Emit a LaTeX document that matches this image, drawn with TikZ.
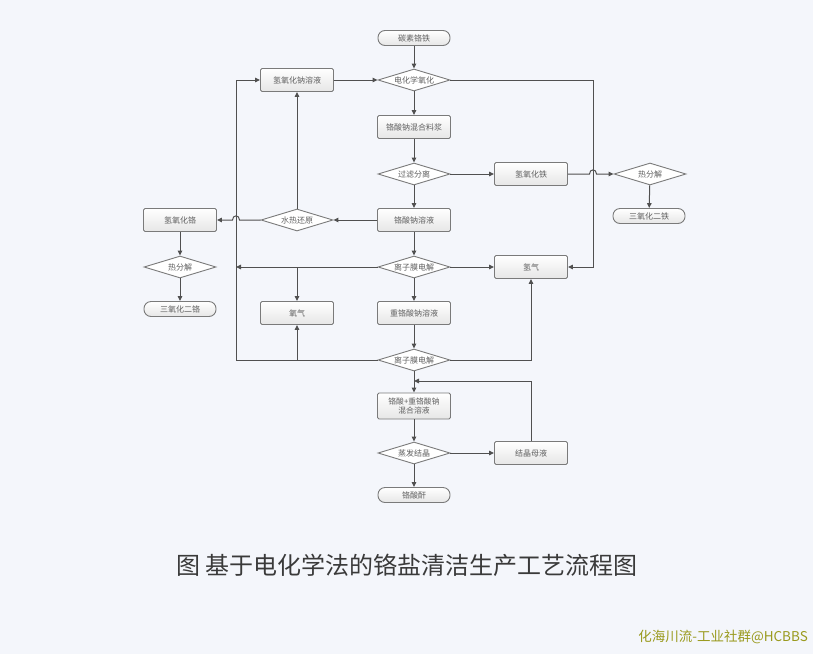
\documentclass[tikz,border=0pt]{standalone}
\usepackage{fontspec}
\newfontfamily\cjk{Noto Sans CJK SC}
\usetikzlibrary{shapes.geometric,arrows.meta}
\definecolor{bg}{HTML}{F4F6FB}
\definecolor{boxline}{HTML}{7A7A7A}
\definecolor{boxfill}{HTML}{E6E6E6}
\definecolor{txt}{HTML}{606060}
\definecolor{conn}{HTML}{505050}
\definecolor{cap}{HTML}{3A3A3A}
\definecolor{wm}{HTML}{9A9A1E}
\begin{document}
\begin{tikzpicture}[x=1pt,y=-1pt,
  lbl/.style={font=\cjk\fontsize{8}{9}\selectfont, text=txt},
  box/.style={lbl, rectangle, rounded corners=1.5pt, draw=boxline, line width=0.9pt,
    top color=white, bottom color=boxfill, minimum width=73pt, minimum height=23pt, inner sep=1pt},
  dia/.style={lbl, diamond, aspect=3, draw=boxline, line width=0.9pt, fill=white,
    minimum width=72pt, minimum height=22pt, inner sep=0pt},
  term/.style={lbl, rectangle, rounded corners=7pt, draw=boxline, line width=0.9pt,
    top color=white, bottom color=boxfill, minimum width=72pt, minimum height=15pt, inner sep=1pt},
  arr/.style={draw=conn, line width=1pt, -{Triangle[length=5pt,width=4.5pt]}},
  ln/.style={draw=conn, line width=1pt}]
\useasboundingbox (0,0) rectangle (813,654);
\fill[bg] (0,0) rectangle (813,654);

% nodes
\node[term] (src) at (414,38) {碳素铬铁};
\node[dia] (eo) at (414,80) {电化学氧化};
\node[box] (naoh) at (297,80) {氢氧化钠溶液};
\node[box] (slurry) at (414,127) {铬酸钠混合料浆};
\node[dia] (filt) at (414,174) {过滤分离};
\node[box] (feoh) at (531,174) {氢氧化铁};
\node[dia] (tda) at (650,174) {热分解};
\node[term] (fe2o3) at (649,216) {三氧化二铁};
\node[box] (nacr) at (414,220) {铬酸钠溶液};
\node[dia] (hyd) at (297,220) {水热还原};
\node[box] (croh) at (180,220) {氢氧化铬};
\node[dia] (tdb) at (180,267) {热分解};
\node[term] (cr2o3) at (180,309) {三氧化二铬};
\node[dia] (ela) at (414,267) {离子膜电解};
\node[box] (hydrogen) at (531,267) {氢气};
\node[box] (oxygen) at (297,313) {氧气};
\node[box] (dichr) at (414,313) {重铬酸钠溶液};
\node[dia] (elb) at (414,360) {离子膜电解};
\node[box, minimum height=26pt, align=center, font=\cjk\fontsize{7.8}{8.6}\selectfont] (mix) at (414,406) {铬酸+重铬酸钠\\混合溶液};
\node[dia] (evap) at (414,453) {蒸发结晶};
\node[box] (mother) at (531,453) {结晶母液};
\node[term] (cro3) at (414,495) {铬酸酐};

% junction coordinates
\coordinate (ja) at (236,267);
\coordinate (jb) at (297,267);
\coordinate (jc) at (297,360);
\coordinate (jd) at (414,381);

% connectors
\draw[arr] (src) -- (eo);
\draw[arr] (naoh.east) -- (eo.west);
\draw[arr] (eo) -- (slurry);
\draw[arr] (eo.east) -- (593,80) -- (593,267) -- (hydrogen.east);
\draw[arr] (slurry) -- (filt);
\draw[arr] (filt.east) -- (feoh.west);
\draw[arr] (feoh.east) -- (589.5,174) .. controls (589.5,168.5) and (596.5,168.5) .. (596.5,174) -- (tda.west);
\draw[arr] (tda) -- (fe2o3);
\draw[arr] (filt) -- (nacr);
\draw[arr] (nacr.west) -- (hyd.east);
\draw[arr] (hyd.west) -- (239.5,220) .. controls (239.5,214.5) and (232.5,214.5) .. (232.5,220) -- (croh.east);
\draw[arr] (hyd.north) -- (naoh.south);
\draw[arr] (croh) -- (tdb);
\draw[arr] (tdb) -- (cr2o3);
\draw[arr] (nacr) -- (ela);
\draw[arr] (ela.west) -- (ja);
\draw[arr] (jb) -- (oxygen.north);
\draw[arr] (ela.east) -- (hydrogen.west);
\draw[arr] (ela) -- (dichr);
\draw[arr] (dichr) -- (elb);
\draw[arr] (elb.west) -- (236,360) -- (236,80) -- (naoh.west);
\draw[arr] (jc) -- (oxygen.south);
\draw[arr] (elb.east) -- (531,360) -- (hydrogen.south);
\draw[arr] (elb) -- (mix);
\draw[arr] (mix) -- (evap);
\draw[arr] (evap.east) -- (mother.west);
\draw[arr] (mother.north) -- (531,381) -- (jd);
\draw[arr] (evap) -- (cro3);

% caption and watermark
\node[font=\cjk\fontsize{24}{27}\selectfont, text=cap] (caption) at (407,565) {图 基于电化学法的铬盐清洁生产工艺流程图};
\node[font=\cjk\fontsize{13.5}{15}\selectfont, text=wm, anchor=east, inner sep=0pt] (mark) at (808,637) {化海川流-工业社群@HCBBS};
\end{tikzpicture}
\end{document}
